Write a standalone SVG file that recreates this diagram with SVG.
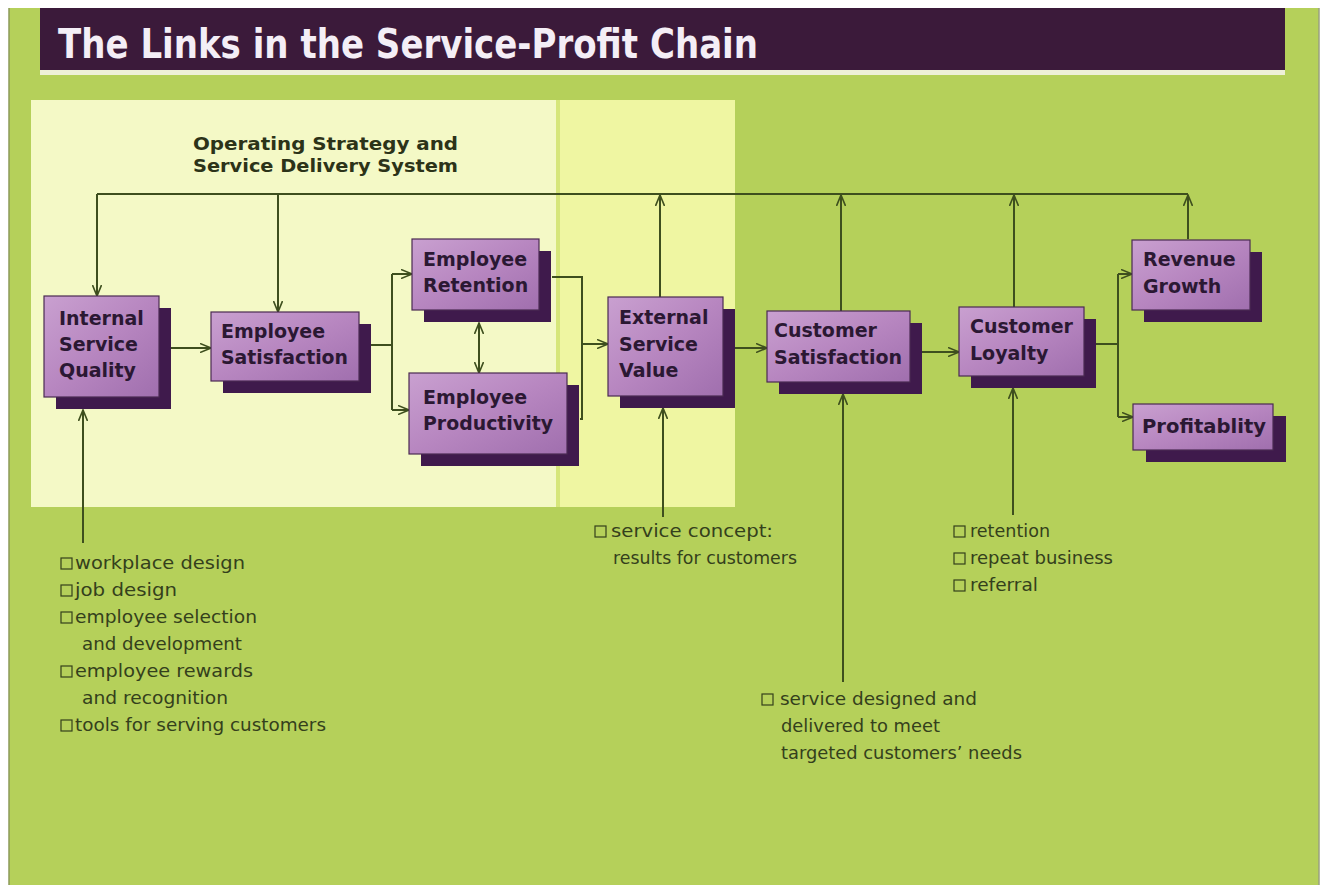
<svg xmlns="http://www.w3.org/2000/svg" width="1322" height="885" viewBox="0 0 1322 885">
<defs>
<linearGradient id="nodeGrad" x1="0" y1="0" x2="1" y2="1">
<stop offset="0" stop-color="#c9a0d0"/>
<stop offset="0.5" stop-color="#b786c0"/>
<stop offset="1" stop-color="#a06fae"/>
</linearGradient>
<marker id="arr" viewBox="0 0 12 10" refX="11" refY="5" markerWidth="12" markerHeight="10" markerUnits="userSpaceOnUse" orient="auto-start-reverse">
<path d="M0,0.5 L11,5 L0,9.5" fill="none" stroke="#3e4f1e" stroke-width="1.6"/>
</marker>
<style>
.shadow{fill:#3f1a4c}
.front{fill:url(#nodeGrad);stroke:#4a2a52;stroke-width:1.2}
.nt{font-family:"DejaVu Sans","Liberation Sans",sans-serif;font-weight:bold;font-size:19px;fill:#2b1833}
.conn path{fill:none;stroke:#3e4f1e;stroke-width:2}
.ar{marker-end:url(#arr)}
.bt{font-family:"DejaVu Sans","Liberation Sans",sans-serif;font-size:17px;fill:#34401c}
.bx{fill:none;stroke:#34401c;stroke-width:1.2}
.hd{font-family:"DejaVu Sans","Liberation Sans",sans-serif;font-weight:bold;font-size:17px;fill:#2c3318}
</style>
</defs>

<!-- background -->
<rect x="0" y="0" width="1322" height="885" fill="#ffffff"/>
<rect x="9" y="8" width="1310" height="877" fill="#b5d05a"/>
<line x1="9" y1="8" x2="9" y2="885" stroke="#8c9a5a" stroke-width="1.5"/>
<line x1="1319" y1="8" x2="1319" y2="885" stroke="#9aa080" stroke-width="1.5"/>

<!-- title -->
<g id="title">
<rect x="40" y="8" width="1245" height="62" fill="#3b1a3a"/>
<rect x="40" y="70" width="1245" height="5" fill="#eef0d8"/>
<text x="58" y="58" font-family="DejaVu Sans, Liberation Sans, sans-serif" font-weight="bold" font-size="40" fill="#f4eef6" textLength="700" lengthAdjust="spacingAndGlyphs">The Links in the Service-Profit Chain</text>
</g>

<!-- panels -->
<g id="panels">
<rect x="31" y="100" width="525" height="407" fill="#f4f9c6"/>
<rect x="556" y="100" width="4" height="407" fill="#d6e67a"/>
<rect x="560" y="100" width="175" height="407" fill="#eff6a2"/>
</g>

<g id="heading">
<text class="hd" x="193" y="150" textLength="265" lengthAdjust="spacingAndGlyphs">Operating Strategy and</text>
<text class="hd" x="193" y="172" textLength="265" lengthAdjust="spacingAndGlyphs">Service Delivery System</text>
</g>

<!-- connectors -->
<g id="connectors" class="conn">
<path d="M97,194 H1188"/>
<path class="ar" d="M97,194 V296"/>
<path class="ar" d="M278,194 V312"/>
<path class="ar" d="M660,297 V195"/>
<path class="ar" d="M841,311 V195"/>
<path class="ar" d="M1014,307 V195"/>
<path class="ar" d="M1188,239 V195"/>
<path class="ar" d="M171,348 H211"/>
<path d="M371,345 H392"/>
<path d="M392,274 V410"/>
<path class="ar" d="M392,274 H412"/>
<path class="ar" d="M392,410 H409"/>
<path d="M479,323 V373" marker-start="url(#arr)" marker-end="url(#arr)"/>
<path d="M552,277 H582 V419 H580"/>
<path class="ar" d="M582,344 H608"/>
<path class="ar" d="M734,348 H767"/>
<path class="ar" d="M922,352 H959"/>
<path d="M1096,344 H1118"/>
<path d="M1118,274 V417"/>
<path class="ar" d="M1118,274 H1132"/>
<path class="ar" d="M1118,417 H1133"/>
<path class="ar" d="M83,543 V410"/>
<path class="ar" d="M663,517 V408"/>
<path class="ar" d="M843,682 V394"/>
<path class="ar" d="M1013,515 V388"/>
</g>

<!-- nodes -->
<g id="isq">
<rect class="shadow" x="56" y="308" width="115" height="101"/>
<rect class="front" x="44" y="296" width="115" height="101"/>
<text class="nt" x="59" y="325">Internal</text>
<text class="nt" x="59" y="351">Service</text>
<text class="nt" x="59" y="377">Quality</text>
</g>
<g id="es">
<rect class="shadow" x="223" y="324" width="148" height="69"/>
<rect class="front" x="211" y="312" width="148" height="69"/>
<text class="nt" x="221" y="338">Employee</text>
<text class="nt" x="221" y="364" textLength="127" lengthAdjust="spacingAndGlyphs">Satisfaction</text>
</g>
<g id="er">
<rect class="shadow" x="424" y="251" width="127" height="71"/>
<rect class="front" x="412" y="239" width="127" height="71"/>
<text class="nt" x="423" y="266">Employee</text>
<text class="nt" x="423" y="292">Retention</text>
</g>
<g id="ep">
<rect class="shadow" x="421" y="385" width="158" height="81"/>
<rect class="front" x="409" y="373" width="158" height="81"/>
<text class="nt" x="423" y="404">Employee</text>
<text class="nt" x="423" y="430" textLength="130" lengthAdjust="spacingAndGlyphs">Productivity</text>
</g>
<g id="esv">
<rect class="shadow" x="620" y="309" width="115" height="99"/>
<rect class="front" x="608" y="297" width="115" height="99"/>
<text class="nt" x="619" y="324">External</text>
<text class="nt" x="619" y="351">Service</text>
<text class="nt" x="619" y="377">Value</text>
</g>
<g id="cs">
<rect class="shadow" x="779" y="323" width="143" height="71"/>
<rect class="front" x="767" y="311" width="143" height="71"/>
<text class="nt" x="774" y="337">Customer</text>
<text class="nt" x="774" y="364" textLength="128" lengthAdjust="spacingAndGlyphs">Satisfaction</text>
</g>
<g id="cl">
<rect class="shadow" x="971" y="319" width="125" height="69"/>
<rect class="front" x="959" y="307" width="125" height="69"/>
<text class="nt" x="970" y="333">Customer</text>
<text class="nt" x="970" y="360">Loyalty</text>
</g>
<g id="rg">
<rect class="shadow" x="1144" y="252" width="118" height="70"/>
<rect class="front" x="1132" y="240" width="118" height="70"/>
<text class="nt" x="1143" y="266">Revenue</text>
<text class="nt" x="1143" y="293">Growth</text>
</g>
<g id="pr">
<rect class="shadow" x="1146" y="416" width="140" height="46"/>
<rect class="front" x="1133" y="404" width="140" height="46"/>
<text class="nt" x="1142" y="433" textLength="124" lengthAdjust="spacingAndGlyphs">Profitablity</text>
</g>

<!-- input lists -->
<g id="list-isq">
<rect class="bx" x="61" y="558" width="11" height="11"/>
<text class="bt" x="75" y="569" textLength="170" lengthAdjust="spacingAndGlyphs">workplace design</text>
<rect class="bx" x="61" y="585" width="11" height="11"/>
<text class="bt" x="75" y="596" textLength="102" lengthAdjust="spacingAndGlyphs">job design</text>
<rect class="bx" x="61" y="612" width="11" height="11"/>
<text class="bt" x="75" y="623" textLength="182" lengthAdjust="spacingAndGlyphs">employee selection</text>
<text class="bt" x="82" y="650" textLength="160" lengthAdjust="spacingAndGlyphs">and development</text>
<rect class="bx" x="61" y="666" width="11" height="11"/>
<text class="bt" x="75" y="677" textLength="178" lengthAdjust="spacingAndGlyphs">employee rewards</text>
<text class="bt" x="82" y="704" textLength="146" lengthAdjust="spacingAndGlyphs">and recognition</text>
<rect class="bx" x="61" y="720" width="11" height="11"/>
<text class="bt" x="75" y="731" textLength="251" lengthAdjust="spacingAndGlyphs">tools for serving customers</text>
</g>
<g id="list-esv">
<rect class="bx" x="595" y="526" width="11" height="11"/>
<text class="bt" x="611" y="537" textLength="162" lengthAdjust="spacingAndGlyphs">service concept:</text>
<text class="bt" x="613" y="564" textLength="184" lengthAdjust="spacingAndGlyphs">results for customers</text>
</g>
<g id="list-cs">
<rect class="bx" x="762" y="694" width="11" height="11"/>
<text class="bt" x="780" y="705" textLength="197" lengthAdjust="spacingAndGlyphs">service designed and</text>
<text class="bt" x="781" y="732" textLength="159" lengthAdjust="spacingAndGlyphs">delivered to meet</text>
<text class="bt" x="781" y="759" textLength="241" lengthAdjust="spacingAndGlyphs">targeted customers’ needs</text>
</g>
<g id="list-cl">
<rect class="bx" x="954" y="526" width="11" height="11"/>
<text class="bt" x="970" y="537" textLength="80" lengthAdjust="spacingAndGlyphs">retention</text>
<rect class="bx" x="954" y="553" width="11" height="11"/>
<text class="bt" x="970" y="564" textLength="143" lengthAdjust="spacingAndGlyphs">repeat business</text>
<rect class="bx" x="954" y="580" width="11" height="11"/>
<text class="bt" x="970" y="591" textLength="68" lengthAdjust="spacingAndGlyphs">referral</text>
</g>
</svg>
